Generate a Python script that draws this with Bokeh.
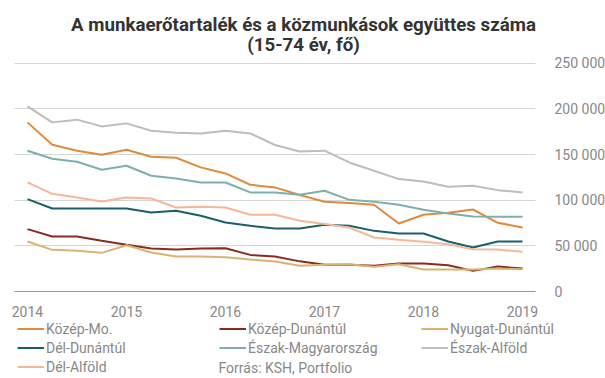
from bokeh.plotting import figure
from bokeh.models import Legend, LegendItem, Label, FixedTicker, Range1d, Grid
from bokeh.embed import file_html
from bokeh.resources import INLINE

# Quarterly periods 2014 Q1 - 2019 Q1
quarters = [2014.0, 2014.25, 2014.5, 2014.75,
            2015.0, 2015.25, 2015.5, 2015.75,
            2016.0, 2016.25, 2016.5, 2016.75,
            2017.0, 2017.25, 2017.5, 2017.75,
            2018.0, 2018.25, 2018.5, 2018.75,
            2019.0]

kozep_mo = [185200, 160700, 154200, 149800, 155300, 147600, 146500, 135900, 129300, 116900,
            114000, 105600, 98200, 96800, 95000, 74500, 84000, 86200, 89800, 75200, 70100]
kozep_dunantul = [68300, 60200, 60200, 55500, 51100, 47100, 46000, 47100, 47400, 40100,
                  38300, 33000, 29200, 29200, 28100, 30600, 30600, 28800, 22600, 27300, 25100]
nyugat_dunantul = [54800, 45600, 44500, 42300, 50700, 42700, 38300, 38300, 37600, 35000,
                   32800, 28100, 29200, 29900, 27000, 29900, 24000, 24000, 24000, 25100, 24400]
del_dunantul = [101200, 90900, 90900, 90900, 90900, 86500, 88400, 82900, 75600, 71900,
                69000, 69000, 73000, 71900, 66400, 63500, 63500, 54800, 48200, 54800, 54800]
eszak_magyar = [154200, 145400, 142100, 133300, 137700, 126800, 123800, 119400, 119400, 108500,
                108500, 105900, 110300, 100400, 98200, 95000, 89500, 85500, 82200, 81800, 81800]
eszak_alfold = [202700, 185200, 188200, 180800, 184100, 176100, 173900, 173100, 176100, 173100,
                160400, 153400, 154200, 141300, 132200, 123100, 120500, 114700, 115800, 111000, 108400]
del_alfold = [119400, 107000, 103000, 98600, 103000, 101900, 92000, 92800, 92000, 84000,
              84000, 77400, 73800, 70100, 59100, 56600, 54400, 51800, 46300, 46000, 43400]

names = ["Közép-Mo.", "Közép-Dunántúl", "Nyugat-Dunántúl",
         "Dél-Dunántúl", "Észak-Magyarország", "Észak-Alföld", "Dél-Alföld"]
series = [kozep_mo, kozep_dunantul, nyugat_dunantul,
          del_dunantul, eszak_magyar, eszak_alfold, del_alfold]
colors = ["#E08A3C", "#8B2B1F", "#D9B46E", "#1A5F6A", "#7DAFB1", "#BDBDBD", "#F7B797"]

year_ticks = [2014, 2015, 2016, 2017, 2018, 2019]
year_labels = ["2014", "2015", "2016", "2017", "2018", "2019"]
y_ticks = [0, 50000, 100000, 150000, 200000, 250000]
y_labels = ["0", "50 000", "100 000", "150 000", "200 000", "250 000"]

title1 = "A munkaerőtartalék és a közmunkások együttes száma"
title2 = "(15-74 év, fő)"
source_note = "Forrás: KSH, Portfolio"

FONT = "Roboto"
GRAY = "#888888"

W, H = 605, 378
PX_YEAR = 99.0          # pixels per year
X0_PX = 27.0            # pixel of 2014
Y0_PX = 291.0           # pixel of value 0
PX_VAL = 228.3 / 250000  # pixels per unit value
GRID_L, GRID_R = 14.0, 535.0


def xdata(px):
    return 2014 + (px - X0_PX) / PX_YEAR


def ydata(py):
    return (Y0_PX - py) / PX_VAL


p = figure(width=W, height=H, output_backend="svg", toolbar_location=None, title=None,
           x_range=Range1d(xdata(0), xdata(W)),
           y_range=Range1d(ydata(H), ydata(0)),
           y_axis_location="right",
           min_border=0, min_border_left=0, min_border_right=0,
           min_border_top=0, min_border_bottom=0)
p.outline_line_color = None
p.xgrid.visible = False

# x axis drawn at value 0, limited to the grid extent
p.xaxis.fixed_location = 0
p.xaxis.bounds = (xdata(GRID_L), xdata(GRID_R))
p.xaxis.ticker = FixedTicker(ticks=year_ticks)
p.xaxis.major_label_overrides = {t: l for t, l in zip(year_ticks, year_labels)}
p.xaxis.major_tick_line_color = None
p.xaxis.minor_tick_line_color = None
p.xaxis.axis_line_color = "#999999"
p.xaxis.major_label_text_color = GRAY
p.xaxis.major_label_text_font = FONT
p.xaxis.major_label_text_font_size = "14px"
p.xaxis.major_label_standoff = 8

# y axis at the right end of the grid
p.yaxis.fixed_location = xdata(GRID_R)
p.yaxis.bounds = (0, 250000)
p.yaxis.ticker = FixedTicker(ticks=y_ticks)
p.yaxis.major_label_overrides = {t: l for t, l in zip(y_ticks, y_labels)}
p.yaxis.major_tick_line_color = None
p.yaxis.minor_tick_line_color = None
p.yaxis.axis_line_color = None
p.yaxis.major_label_text_color = GRAY
p.yaxis.major_label_text_font = FONT
p.yaxis.major_label_text_font_size = "14px"
p.yaxis.major_label_standoff = 13

p.ygrid.grid_line_color = "#D6D6D6"
p.ygrid.grid_line_width = 1
p.ygrid.bounds = (0, 250000)
if "cross_bounds" in Grid.properties():
    p.ygrid.cross_bounds = (xdata(GRID_L), xdata(GRID_R))
else:
    p.ygrid.visible = False
    p.segment(x0=[xdata(GRID_L)] * len(y_ticks), x1=[xdata(GRID_R)] * len(y_ticks),
              y0=y_ticks, y1=y_ticks, line_color="#D6D6D6", line_width=1)

items = []
for name, vals, col in zip(names, series, colors):
    r = p.line(quarters, vals, line_color=col, line_width=2)
    items.append(LegendItem(label=name, renderers=[r]))

legend = Legend(items=items, location=(17, 2), orientation="horizontal", ncols=3,
                padding=0, margin=0, spacing=0,
                glyph_width=27, glyph_height=19, label_height=19,
                label_width=173, label_standoff=2,
                label_text_font=FONT, label_text_font_size="14px",
                label_text_color=GRAY,
                border_line_color=None, background_fill_alpha=0)
p.add_layout(legend, "center")

p.add_layout(Label(x=218, y=H - 367, x_units="screen", y_units="screen", text=source_note,
                   text_font=FONT, text_font_size="14px", text_color=GRAY,
                   text_baseline="middle", text_align="left"))

p.add_layout(Label(x=303, y=H - 24, x_units="screen", y_units="screen", text=title1,
                   text_font=FONT, text_font_size="18.7px", text_font_style="bold",
                   text_color="#333333", text_align="center", text_baseline="middle"))
p.add_layout(Label(x=303, y=H - 44, x_units="screen", y_units="screen", text=title2,
                   text_font=FONT, text_font_size="18.7px", text_font_style="bold",
                   text_color="#333333", text_align="center", text_baseline="middle"))

open("out.html", "w").write(file_html(p, INLINE))
